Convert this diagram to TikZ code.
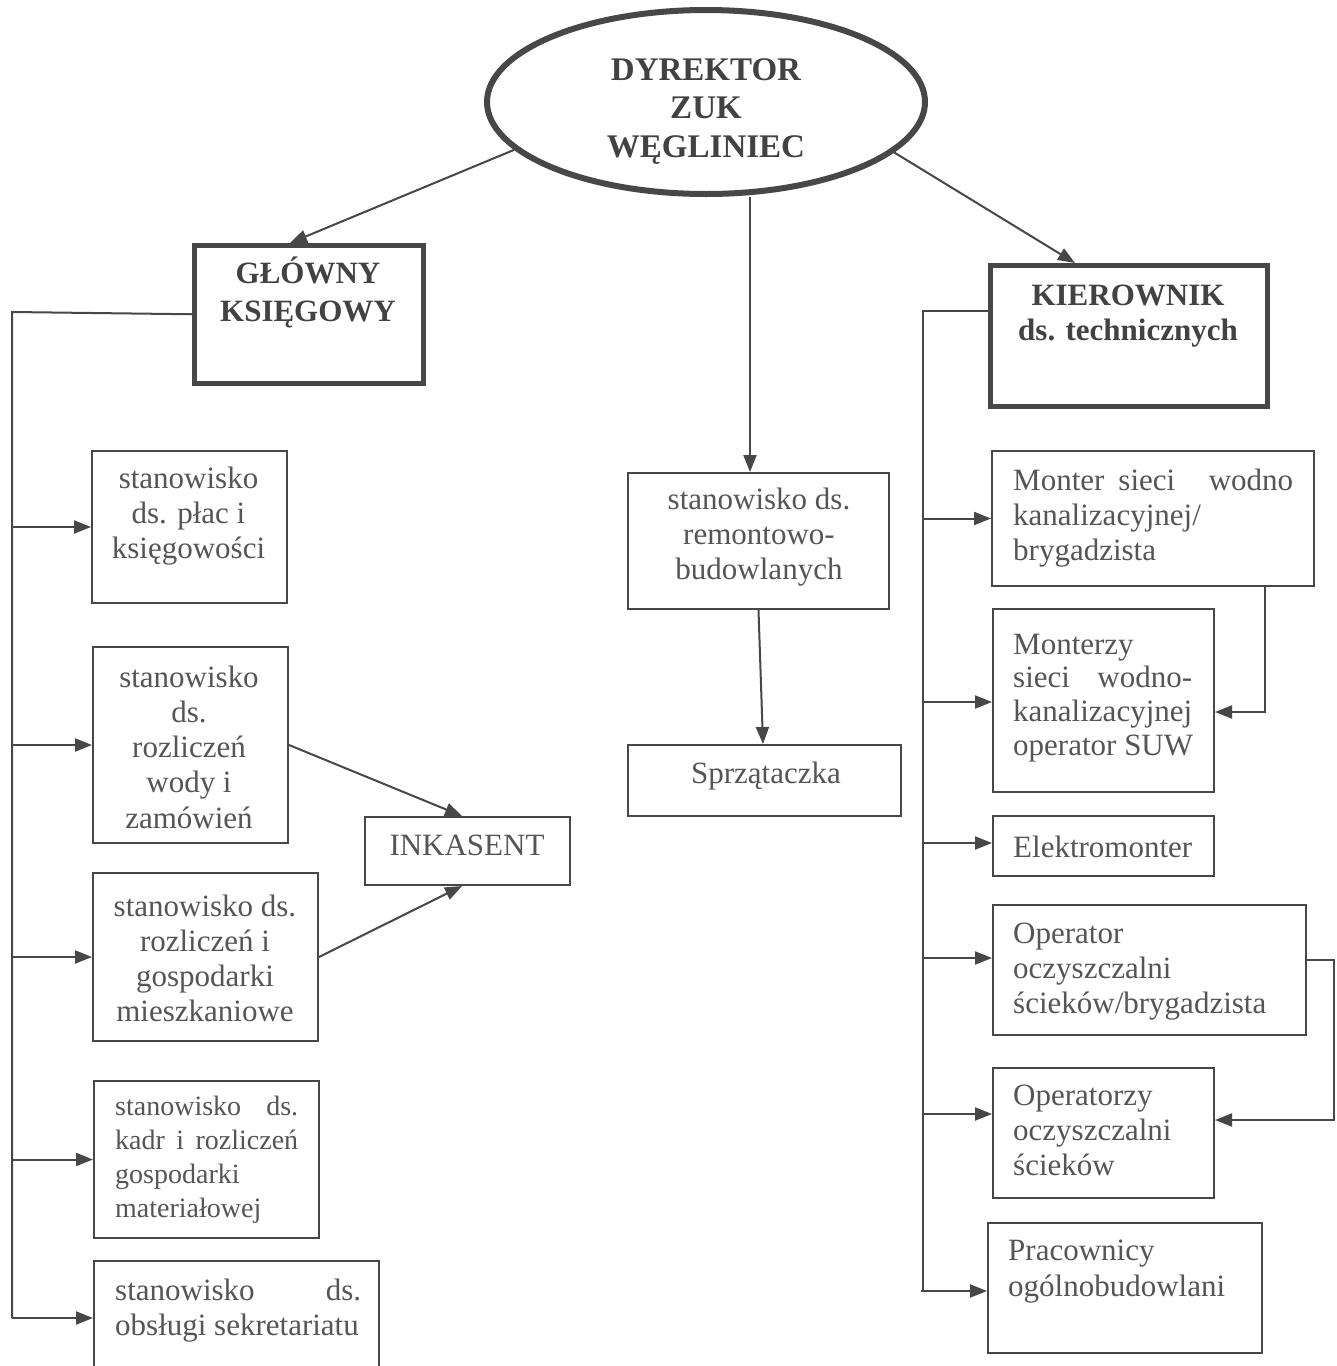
\documentclass[tikz,border=0pt]{standalone}
\usepackage{fontspec}
\setmainfont{Liberation Serif}
\usetikzlibrary{shapes.geometric,arrows.meta}
\definecolor{lnc}{HTML}{474747}
\definecolor{txc}{HTML}{555555}
\definecolor{tbc}{HTML}{424242}
\newcommand\nfs{\fontsize{31}{35}\selectfont}
\begin{document}
\begin{tikzpicture}[x=1pt,y=-1pt,
  box/.style={draw=lnc, line width=2pt, rectangle, inner sep=0pt, anchor=north west},
  bossbox/.style={box, line width=4.5pt},
  txt/.style={text=txc, inner sep=0pt, anchor=base, font=\nfs},
  ltxt/.style={txt, anchor=base west},
  btxt/.style={txt, text=tbc, font=\bfseries\fontsize{31}{38}\selectfont},
  link/.style={draw=lnc, line width=2pt},
  arr/.style={link, -{Triangle[length=17pt,width=13pt]}}]
\useasboundingbox (0,0) rectangle (1337,1366);
\clip (0,0) rectangle (1337,1366);
\fill[white] (0,0) rectangle (1337,1366);

% director
\node[draw=lnc, line width=6pt, ellipse, minimum width=438pt, minimum height=184pt, inner sep=0pt] (dir) at (706,102) {};
\node[btxt, font=\bfseries\fontsize{33}{38.5}\selectfont] (tdir) at (706,80) {\parbox[t]{400pt}{\centering DYREKTOR\\ZUK\\WĘGLINIEC}};

% heads
\node[bossbox, minimum width=229pt, minimum height=138pt] (gk) at (192,243) {};
\node[btxt] (tgk) at (308,283) {\parbox[t]{300pt}{\centering GŁÓWNY\\KSIĘGOWY}};
\node[bossbox, minimum width=277pt, minimum height=141pt] (kr) at (988,263) {};
\node[btxt, font=\bfseries\fontsize{31}{35}\selectfont] (tkr) at (1128,305) {\parbox[t]{340pt}{\centering KIEROWNIK\\ds. technicznych}};

% left column
\node[box, minimum width=195pt, minimum height=152pt] (b1) at (91,450) {};
\node[txt] (tb1) at (188.5,488) {\parbox[t]{300pt}{\centering stanowisko\\ds. płac i\\księgowości}};
\node[box, minimum width=195pt, minimum height=196pt] (b2) at (92,646) {};
\node[txt, font=\fontsize{31}{35.3}\selectfont] (tb2) at (189,687) {\parbox[t]{300pt}{\centering stanowisko\\ds.\\rozliczeń\\wody i\\zamówień}};
\node[box, minimum width=225pt, minimum height=168pt] (b3) at (92,872) {};
\node[txt] (tb3) at (205,916) {\parbox[t]{300pt}{\centering stanowisko ds.\\rozliczeń i\\gospodarki\\mieszkaniowe}};
\node[box, minimum width=205pt, minimum height=68pt] (ink) at (364,816) {};
\node[txt] (tink) at (467,855) {INKASENT};
\node[box, minimum width=225pt, minimum height=157pt] (b4) at (93,1080) {};
\node[ltxt, font=\fontsize{28}{34}\selectfont] (tb4) at (115,1115) {\parbox[t]{183pt}{\raggedright\makebox[183pt][s]{stanowisko\hfill ds.}\\\makebox[183pt][s]{kadr i rozliczeń}\\gospodarki\\materiałowej}};
\node[box, minimum width=285pt, minimum height=116pt] (b5) at (93,1260) {};
\node[ltxt] (tb5) at (115,1300) {\parbox[t]{250pt}{\raggedright\makebox[246pt][s]{stanowisko\hfill ds.}\\obsługi sekretariatu}};

% middle column
\node[box, minimum width=261pt, minimum height=136pt] (m1) at (627,472) {};
\node[txt] (tm1) at (759,509) {\parbox[t]{300pt}{\centering stanowisko ds.\\remontowo-\\budowlanych}};
\node[box, minimum width=273pt, minimum height=71pt] (m2) at (627,744) {};
\node[txt] (tm2) at (766,783) {Sprzątaczka};

% right column
\node[box, minimum width=322pt, minimum height=135pt] (r1) at (991,450) {};
\node[ltxt] (tr1) at (1013,490) {\parbox[t]{290pt}{\raggedright\makebox[280pt][s]{Monter\hspace{14pt}sieci\hfill wodno}\\kanalizacyjnej/\\brygadzista}};
\node[box, minimum width=221pt, minimum height=183pt] (r2) at (992,608) {};
\node[ltxt, font=\fontsize{31}{33.7}\selectfont] (tr2) at (1013,654) {\parbox[t]{200pt}{\raggedright Monterzy\\\makebox[179pt][s]{sieci\hfill wodno-}\\kanalizacyjnej\\operator SUW}};
\node[box, minimum width=221pt, minimum height=60pt] (r3) at (992,815) {};
\node[ltxt] (tr3) at (1013,857) {Elektromonter};
\node[box, minimum width=313pt, minimum height=130pt] (r4) at (992,904) {};
\node[ltxt] (tr4) at (1013,943) {\parbox[t]{290pt}{\raggedright Operator\\oczyszczalni\\ścieków/brygadzista}};
\node[box, minimum width=221pt, minimum height=130pt] (r5) at (992,1067) {};
\node[ltxt] (tr5) at (1013,1105) {\parbox[t]{200pt}{\raggedright Operatorzy\\oczyszczalni\\ścieków}};
\node[box, minimum width=274pt, minimum height=130pt] (r6) at (987,1222) {};
\node[ltxt, font=\fontsize{31}{36}\selectfont] (tr6) at (1008,1260) {\parbox[t]{260pt}{\raggedright Pracownicy\\ogólnobudowlani}};

% director links
\draw[arr] (dir.194.6) -- (gk.north -| 290,0);
\draw[arr] (dir.south -| 750,0) -- (m1.north -| 750,0);
\draw[arr] (dir.345.3) -- (kr.north -| 1075,0);

% left spine
\coordinate (ls1) at (12,312);
\coordinate (ls2) at (12,1318);
\draw[link] (gk.west) -- (ls1) -- (ls2);
\draw[arr] (b1.west -| ls1) -- (b1.west);
\draw[arr] (b2.west -| ls1) -- (b2.west);
\draw[arr] (b3.west -| ls1) -- (b3.west);
\draw[arr] (b4.west -| ls1) -- (b4.west);
\draw[arr] (ls2) -- (b5.west |- ls2);
\draw[arr] (b2.east) -- (ink.north -| 462,0);
\draw[arr] (b3.east) -- (ink.south -| 462,0);

% middle
\draw[arr] (m1.south) -- (m2.north -| 763,0);

% right spine
\coordinate (rs1) at (923,311);
\coordinate (rs2) at (921,1291);
\draw[link] (kr.west |- rs1) -- (rs1) -- (923,1291) -- (rs2);
\draw[arr] (r1.west -| rs1) -- (r1.west);
\draw[arr] (923,702) -- (r2.west |- 0,702);
\draw[arr] (923,843) -- (r3.west |- 0,843);
\draw[arr] (923,958) -- (r4.west |- 0,958);
\draw[arr] (923,1114) -- (r5.west |- 0,1114);
\draw[arr] (rs2) -- (r6.west |- rs2);
\draw[arr] (r1.south -| 1265,0) -- (1265,712) -- (r2.east |- 0,712);
\draw[arr] (r4.east |- 0,960) -- (1334,960) -- (1334,1120) -- (r5.east |- 0,1120);
\end{tikzpicture}
\end{document}
